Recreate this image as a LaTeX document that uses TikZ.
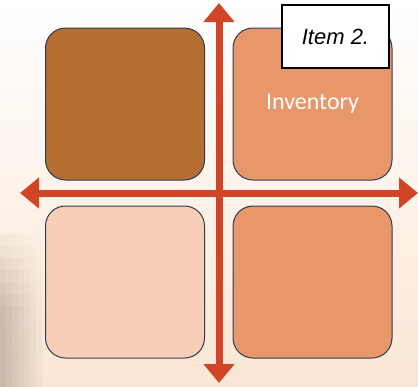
\documentclass[tikz,border=0pt]{standalone}
\usepackage{fontspec}
\setmainfont{Liberation Sans}
\newfontfamily\calib{Carlito}
\usetikzlibrary{arrows.meta,fadings}
\definecolor{bgtop}{RGB}{255,255,255}
\definecolor{bgbot}{RGB}{250,230,212}
\definecolor{darkbox}{RGB}{180,110,50}
\definecolor{midbox}{RGB}{232,151,106}
\definecolor{lightbox}{RGB}{249,206,185}
\definecolor{edgec}{RGB}{45,60,85}
\definecolor{arrowc}{RGB}{207,69,38}
\definecolor{shadowc}{RGB}{190,176,162}
\tikzset{
  quad/.style={draw=edgec, line width=1pt, rounded corners=20pt, minimum width=159pt, minimum height=152pt, inner sep=0pt},
  axis/.style={draw=arrowc, line width=7pt, {Triangle[width=30pt,length=19pt]}-{Triangle[width=30pt,length=19pt]}, arrowc},
  itembox/.style={draw=black, line width=2pt, fill=white, minimum width=107pt, minimum height=63pt, inner sep=0pt, font=\itshape\fontsize{22}{26}\selectfont}
}
\begin{document}
\begin{tikzpicture}[x=1pt,y=-1pt]
\useasboundingbox (0,0) rectangle (418,386);
\shade[top color=bgtop, bottom color=bgbot] (0,0) rectangle (418,386);
\foreach \i in {0,...,6} {
  \foreach \j in {0,...,13} {
    \pgfmathsetmacro{\op}{max(0,1-\i/7)*min(1,\j/7)*0.8}
    \fill[shadowc, fill opacity=\op] (\i*6,222+\j*12) rectangle (\i*6+6.2,222+\j*12+12.2);
  }
}
\node[quad, fill=darkbox] (tl) at (125,104) {};
\node[quad, fill=midbox] (tr) at (312.5,104) {};
\node[quad, fill=lightbox] (bl) at (125,282) {};
\node[quad, fill=midbox] (br) at (312.5,282) {};
\node[text=white, font=\calib\fontsize{24}{28}\selectfont] (inv) at (tr.center) {Inventory};
\coordinate (top) at (219,3);
\coordinate (bot) at (219,383);
\coordinate (lft) at (20,193);
\coordinate (rgt) at (418,193);
\draw[axis] (lft) -- (rgt);
\draw[axis] (top) -- (bot);
\node[itembox] (item) at (335.5,36.5) {Item 2.};
\end{tikzpicture}
\end{document}
